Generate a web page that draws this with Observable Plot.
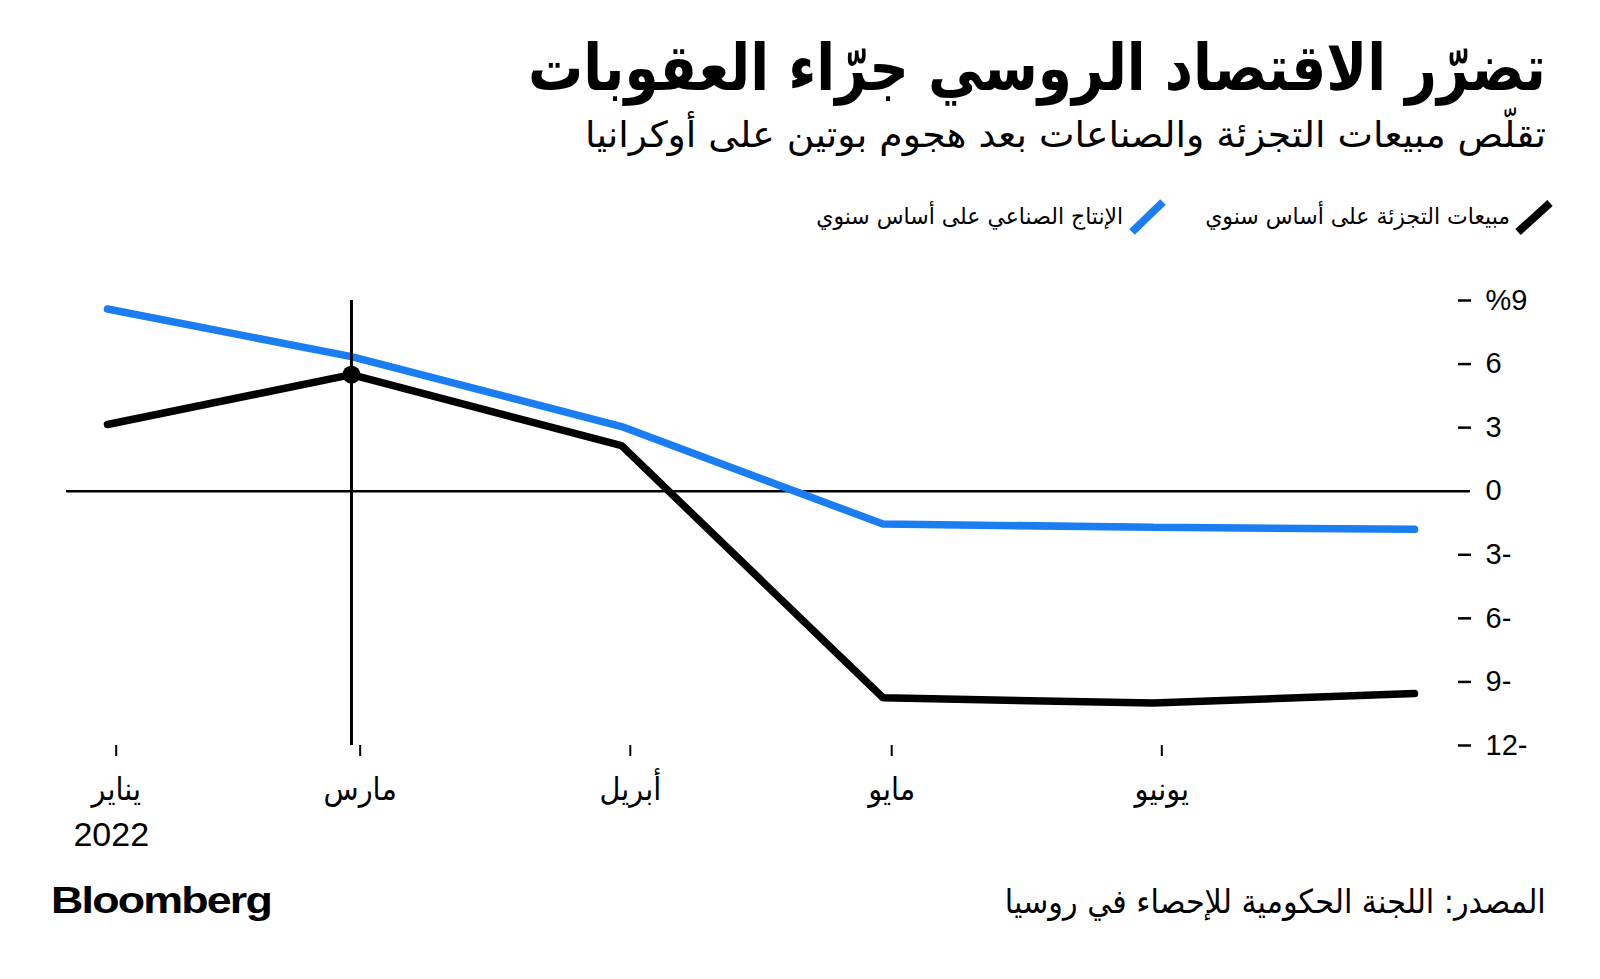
<!DOCTYPE html>
<html>
<head>
<meta charset="utf-8">
<script src="https://cdn.jsdelivr.net/npm/d3@7"></script>
<script src="https://cdn.jsdelivr.net/npm/@observablehq/plot@0.6"></script>
<style>
  html, body { margin: 0; padding: 0; background: #fff; }
  #root { position: relative; width: 1600px; height: 979px; overflow: hidden; background: #fff; color: #000;
          font-family: "DejaVu Sans", sans-serif; }
  .t { position: absolute; white-space: nowrap; line-height: 1; }
  #chart { position: absolute; left: 0; top: 250px; }
  .sw { position: absolute; }
</style>
</head>
<body>
<div id="root">
  <div id="title" class="t" dir="rtl" data-fit="1018" data-origin="right"
       style="right:54px; top:36px; font-family:'DejaVu Sans Condensed','DejaVu Sans',sans-serif; font-weight:bold; font-size:64px;"></div>
  <div id="subtitle" class="t" dir="rtl" data-fit="961" data-origin="right"
       style="right:54px; top:117px; font-family:'DejaVu Sans Condensed','DejaVu Sans',sans-serif; font-size:36px;"></div>

  <svg class="sw" style="left:1510px; top:196px;" width="48" height="44">
    <line id="sw1" x1="8" y1="36" x2="40" y2="7" stroke="#000" stroke-width="8"></line>
  </svg>
  <div id="leg1" class="t" dir="rtl" data-fit="305" data-origin="right"
       style="right:90px; top:205px; font-family:'DejaVu Sans Condensed','DejaVu Sans',sans-serif; font-size:23px;"></div>
  <svg class="sw" style="left:1124px; top:196px;" width="48" height="44">
    <line id="sw2" x1="8" y1="36" x2="39" y2="6" stroke="#1a7ef2" stroke-width="8"></line>
  </svg>
  <div id="leg2" class="t" dir="rtl" data-fit="307" data-origin="right"
       style="right:477px; top:205px; font-family:'DejaVu Sans Condensed','DejaVu Sans',sans-serif; font-size:23px;"></div>

  <div id="chart"></div>

  <div id="brand" class="t" data-fit="220" data-origin="left"
       style="left:51px; top:882px; font-family:'Liberation Sans',Arial,sans-serif; font-weight:bold; font-size:37px; letter-spacing:-1.5px;">Bloomberg</div>
  <div id="source" class="t" dir="rtl" data-fit="541" data-origin="right"
       style="right:54px; top:885px; font-family:'DejaVu Sans Condensed','DejaVu Sans',sans-serif; font-size:33px;"></div>
</div>

<script>
// ---------- data ----------
const titleText = "تضرّر الاقتصاد الروسي جرّاء العقوبات";
const subtitleText = "تقلّص مبيعات التجزئة والصناعات بعد هجوم بوتين على أوكرانيا";
const sourceText = "المصدر: اللجنة الحكومية للإحصاء في روسيا";
const seriesNames = ["مبيعات التجزئة على أساس سنوي", "الإنتاج الصناعي على أساس سنوي"];
const seriesColors = ["#000000", "#1a7ef2"];

const dates = ["2022-01-31", "2022-02-28", "2022-03-31", "2022-04-30", "2022-05-31", "2022-06-30"];
const retailSales = [3.15, 5.5, 2.15, -9.75, -10.0, -9.55];
const industrialOutput = [8.6, 6.35, 3.05, -1.55, -1.7, -1.8];

const xTickDates = ["2022-02-01", "2022-03-01", "2022-04-01", "2022-05-01", "2022-06-01"];
const xTickLabels = ["يناير", "مارس", "أبريل", "مايو", "يونيو"];
const yearLabel = "2022";
const yTicks = [9, 6, 3, 0, -3, -6, -9, -12];
const markerDate = "2022-02-28";

// ---------- texts ----------
document.getElementById("title").textContent = titleText;
document.getElementById("subtitle").textContent = subtitleText;
document.getElementById("source").textContent = sourceText;
document.getElementById("leg1").textContent = seriesNames[0];
document.getElementById("leg2").textContent = seriesNames[1];
document.getElementById("sw1").setAttribute("stroke", seriesColors[0]);
document.getElementById("sw2").setAttribute("stroke", seriesColors[1]);

// ---------- chart ----------
const parse = d3.utcParse("%Y-%m-%d");
const retailData = dates.map((d, i) => ({date: parse(d), value: retailSales[i]}));
const industryData = dates.map((d, i) => ({date: parse(d), value: industrialOutput[i]}));
const tickDates = xTickDates.map(parse);
const labelByTime = new Map(tickDates.map((d, i) => [+d, xTickLabels[i]]));
const markerIndex = dates.indexOf(markerDate);
const markerData = [retailData[markerIndex]];

const yFormat = v => v === 9 ? "%" + v : (v < 0 ? (-v) + "-" : String(v));

const chart = Plot.plot({
  width: 1600,
  height: 610,
  marginLeft: 66,
  marginRight: 143,
  marginTop: 50,
  marginBottom: 115,
  x: {type: "utc", domain: [retailData[0].date, retailData[retailData.length - 1].date], range: [107, 1414]},
  y: {domain: [-12, 9]},
  style: {fontFamily: "'Liberation Sans', 'DejaVu Sans', sans-serif", fontSize: "29px", color: "#000", background: "transparent", overflow: "visible"},
  marks: [
    Plot.ruleY([0], {stroke: "#000", strokeWidth: 2.5, insetRight: -13}),
    Plot.axisY(yTicks.filter(v => v !== 0), {anchor: "right", tickSize: 13, tickPadding: 15, tickFormat: yFormat, strokeWidth: 2.5, fontSize: 29, label: null}),
    Plot.text([0], {x: null, y: d => d, frameAnchor: "right", dx: 28, textAnchor: "start", text: d => yFormat(d), fontSize: 29}),
    Plot.axisX(tickDates, {anchor: "bottom", tickSize: 11, tickPadding: 21, strokeWidth: 2, tickFormat: d => labelByTime.get(+d), fontSize: 32, fontFamily: "'DejaVu Sans Condensed', 'DejaVu Sans', sans-serif", label: null}),
    Plot.text([yearLabel], {x: () => tickDates[0], frameAnchor: "bottom", dy: 100, dx: -5, text: d => d, fontSize: 34}),
    Plot.line(retailData, {x: "date", y: "value", stroke: seriesColors[0], strokeWidth: 7.5, strokeLinecap: "round", strokeLinejoin: "miter"}),
    Plot.line(industryData, {x: "date", y: "value", stroke: seriesColors[1], strokeWidth: 7.5, strokeLinecap: "round", strokeLinejoin: "miter"}),
    Plot.ruleX([parse(markerDate)], {y1: 9, y2: -12, stroke: "#000", strokeWidth: 3}),
    Plot.dot(markerData, {x: "date", y: "value", r: 9, fill: "#000", stroke: "none"})
  ]
});
document.getElementById("chart").appendChild(chart);

// ---------- fit text widths ----------
function fit() {
  document.querySelectorAll("[data-fit]").forEach(el => {
    el.style.transform = "none";
    const w = el.getBoundingClientRect().width;
    const target = +el.dataset.fit;
    if (w > 0) {
      el.style.transformOrigin = el.dataset.origin === "left" ? "left center" : "right center";
      el.style.transform = `scaleX(${target / w})`;
    }
  });
}
fit();
if (document.fonts && document.fonts.ready) document.fonts.ready.then(fit);
</script>
</body>
</html>
